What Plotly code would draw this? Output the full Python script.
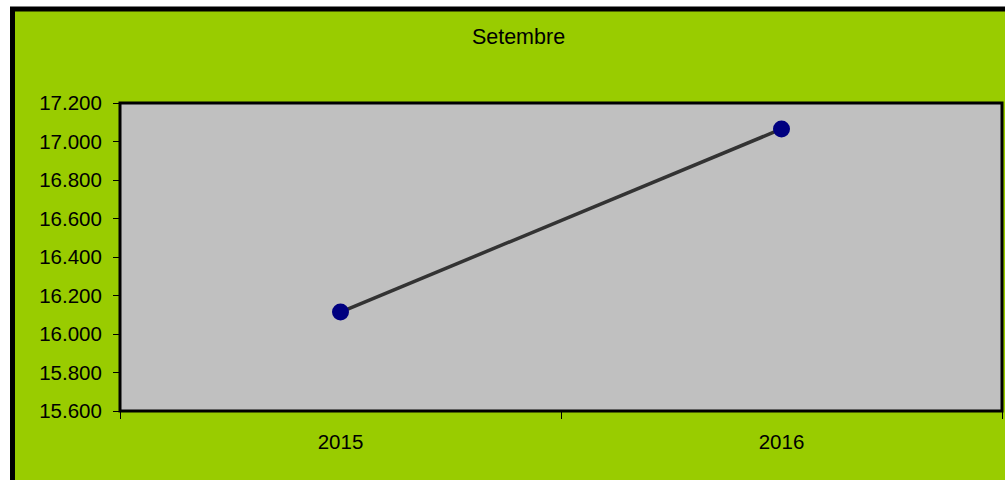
import plotly.graph_objects as go

years = ["2015", "2016"]
values = [16114, 17065]
title_text = "Setembre"

W, H = 1005, 480
L, R, T, B = 120, 3, 103, 480 - 411
pw, ph = W - L - R, H - T - B

def px_x(x):
    return (x - L) / pw

def px_y(y):
    return (H - B - y) / ph

fig = go.Figure()
fig.add_trace(go.Scatter(
    x=years, y=values, mode="lines+markers",
    line=dict(color="#333333", width=3.5),
    marker=dict(color="#000080", size=17, line=dict(width=0)),
    showlegend=False, cliponaxis=False,
))

fig.update_layout(
    width=W, height=H,
    margin=dict(l=L, r=R, t=T, b=B, pad=0),
    paper_bgcolor="white",
    plot_bgcolor="rgba(0,0,0,0)",
    separators=",.",
    font=dict(family="Liberation Sans, Arial, sans-serif", size=20.5, color="black"),
    title=dict(text=title_text, x=518.5 / W, xref="container", xanchor="center",
               y=1 - 36 / H, yref="container", yanchor="middle",
               font=dict(size=21.5, color="black")),
    shapes=[
        dict(type="rect", xref="paper", yref="paper", layer="below",
             x0=px_x(12.5), x1=px_x(1040), y0=px_y(9), y1=px_y(500),
             fillcolor="#99CC00", line=dict(color="black", width=5)),
        dict(type="rect", xref="paper", yref="paper", layer="below",
             x0=0, x1=1, y0=0, y1=1,
             fillcolor="#C0C0C0", line=dict(color="black", width=3)),
    ],
)

fig.update_xaxes(
    type="category", range=[-0.5, 1.5], tickson="boundaries",
    ticks="outside", ticklen=7, tickwidth=1, tickcolor="black",
    showgrid=False, zeroline=False, showline=False,
    ticklabelstandoff=16,
)
fig.update_yaxes(
    range=[15600, 17200], dtick=200, tick0=15600, tickformat=",.0f",
    ticks="outside", ticklen=6, tickwidth=1, tickcolor="black",
    showgrid=False, zeroline=False, showline=False,
    ticklabelstandoff=7,
)

fig.write_html(
    "out.html",
    config={"displayModeBar": False, "staticPlot": True},
    post_script="document.body.style.margin='0';document.body.style.overflow='hidden';",
)
